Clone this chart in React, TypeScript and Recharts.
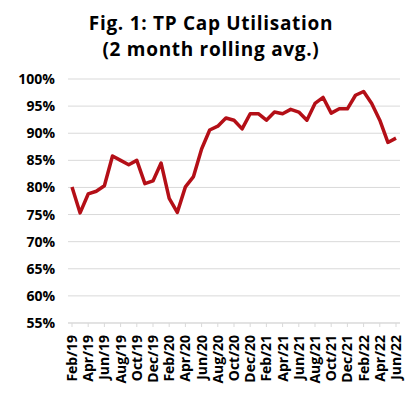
import { LineChart, Line, XAxis, YAxis, CartesianGrid } from "recharts";

const months = [
  "Feb/19", "Mar/19", "Apr/19", "May/19", "Jun/19", "Jul/19", "Aug/19", "Sep/19", "Oct/19", "Nov/19", "Dec/19",
  "Jan/20", "Feb/20", "Mar/20", "Apr/20", "May/20", "Jun/20", "Jul/20", "Aug/20", "Sep/20", "Oct/20", "Nov/20", "Dec/20",
  "Jan/21", "Feb/21", "Mar/21", "Apr/21", "May/21", "Jun/21", "Jul/21", "Aug/21", "Sep/21", "Oct/21", "Nov/21", "Dec/21",
  "Jan/22", "Feb/22", "Mar/22", "Apr/22", "May/22", "Jun/22",
];

const utilisation = [
  80.1, 75.3, 78.8, 79.3, 80.3, 85.8, 85.0, 84.2, 85.0, 80.7, 81.2,
  84.5, 78.0, 75.4, 80.1, 82.0, 87.1, 90.6, 91.3, 92.8, 92.4, 90.8, 93.6,
  93.6, 92.4, 93.9, 93.6, 94.4, 93.9, 92.4, 95.5, 96.6, 93.7, 94.5, 94.5,
  97.0, 97.7, 95.5, 92.4, 88.3, 89.1,
];

const yTicks = [55, 60, 65, 70, 75, 80, 85, 90, 95, 100];

const titleLines = ["Fig. 1: TP Cap Utilisation", "(2 month rolling avg.)"];

const data = months.map((m, i) => ({ month: m, value: utilisation[i] }));

const font = "'Open Sans', sans-serif";

function MonthTick({ x, y, payload }: any) {
  return (
    <text
      x={0}
      y={0}
      transform={`translate(${x + 5},${y + 6}) rotate(-90)`}
      textAnchor="end"
      fontFamily={font}
      fontWeight={700}
      fontSize={14}
      fill="#000"
    >
      {payload.value}
    </text>
  );
}

export default function App() {
  return (
    <div style={{ position: "absolute", left: 0, top: 0, width: 420, height: 395, background: "#fff" }}>
      <svg width={420} height={70} style={{ position: "absolute", left: 0, top: 0 }}>
        {titleLines.map((t, i) => (
          <text
            key={i}
            x={211}
            y={30 + i * 26}
            textAnchor="middle"
            fontFamily={font}
            fontWeight={700}
            fontSize={19}
            letterSpacing={0.7}
            fill="#000"
          >
            {t}
          </text>
        ))}
      </svg>
      <div style={{ position: "absolute", left: 0, top: 0 }}>
        <LineChart width={420} height={395} data={data} margin={{ top: 79, right: 20, left: 8, bottom: 0 }}>
          <CartesianGrid vertical={false} stroke="#d9d9d9" />
          <XAxis
            dataKey="month"
            interval={1}
            height={72}
            tick={<MonthTick />}
            tickLine={{ stroke: "#d9d9d9" }}
            tickSize={4}
            axisLine={{ stroke: "#d9d9d9" }}
            padding={{ left: 4, right: 4 }}
          />
          <YAxis
            width={60}
            domain={[55, 100]}
            ticks={yTicks}
            tickFormatter={(v) => `${v}%`}
            tick={{ fontFamily: font, fontWeight: 700, fontSize: 14, fill: "#000", dx: -5 }}
            axisLine={false}
            tickLine={false}
          />
          <Line
            type="linear"
            dataKey="value"
            stroke="#b40f17"
            strokeWidth={3.5}
            strokeLinejoin="round"
            dot={false}
            isAnimationActive={false}
          />
        </LineChart>
      </div>
    </div>
  );
}
